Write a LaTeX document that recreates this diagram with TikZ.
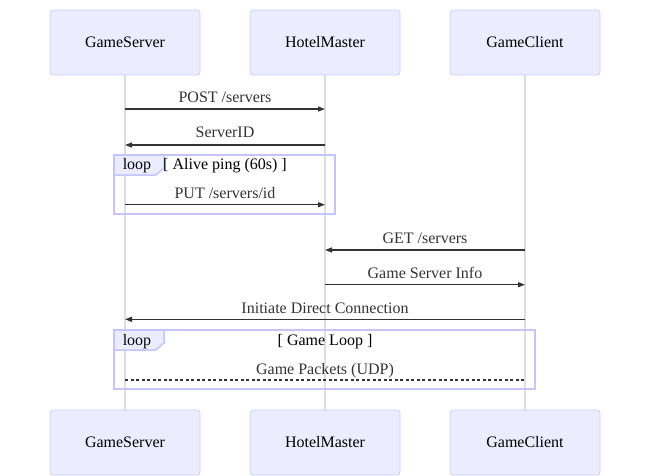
\documentclass[tikz,border=0pt]{standalone}
\usepackage{fontspec}
\setmainfont{Liberation Serif}
\usetikzlibrary{arrows.meta}
\definecolor{actfill}{HTML}{ECECFF}
\definecolor{actborder}{HTML}{CCCCFF}
\definecolor{loopborder}{HTML}{C4C4FF}
\definecolor{msgcol}{HTML}{333333}
\definecolor{lifecol}{HTML}{DDDDDD}
\begin{document}
\begin{tikzpicture}[x=1pt,y=-1pt,
  every node/.style={font=\fontsize{16pt}{19pt}\selectfont},
  actor/.style={draw=actborder, fill=actfill, rounded corners=3pt, minimum width=150pt, minimum height=65pt, line width=0.8pt, inner sep=0pt},
  lifeline/.style={draw=lifecol, line width=1.4pt},
  msgline/.style={draw=msgcol, line width=1.4pt, -{Triangle[length=7pt,width=5pt]}},
  dotline/.style={draw=msgcol, line width=1.3pt, dash pattern=on 3pt off 2.5pt},
  msgtext/.style={anchor=base, inner sep=0pt, text=msgcol},
  looptext/.style={anchor=base, inner sep=0pt, text=black},
  loopbox/.style={draw=loopborder, line width=1.5pt},
  looptab/.style={draw=loopborder, fill=actfill, line width=1.5pt},
]
\useasboundingbox (0,0) rectangle (650,476);

% lifeline anchors
\coordinate (gsTs) at (125,75);
\coordinate (hmTs) at (325,75);
\coordinate (gcTs) at (525,75);
\coordinate (gsBn) at (125,410);
\coordinate (hmBn) at (325,410);
\coordinate (gcBn) at (525,410);

% lifelines
\draw[lifeline] (gsTs) -- (gsBn);
\draw[lifeline] (hmTs) -- (hmBn);
\draw[lifeline] (gcTs) -- (gcBn);

% actors
\node[actor] (gsT) at (125,42.5) {GameServer};
\node[actor] (hmT) at (325,42.5) {HotelMaster};
\node[actor] (gcT) at (525,42.5) {GameClient};
\node[actor] (gsB) at (125,442.5) {GameServer};
\node[actor] (hmB) at (325,442.5) {HotelMaster};
\node[actor] (gcB) at (525,442.5) {GameClient};

% loop 1
\draw[loopbox] (114,155) rectangle (335,214);
\draw[looptab] (114,155) -- (164,155) -- (164,168) -- (155.6,175) -- (114,175) -- cycle;
\node[looptext] (l1) at (137,169.5) {loop};
\node[looptext] (l1c) at (225,169.5) {[ Alive ping (60s) ]};

% loop 2
\draw[loopbox] (114,330) rectangle (535,389);
\draw[looptab] (114,330) -- (164,330) -- (164,343) -- (155.6,350) -- (114,350) -- cycle;
\node[looptext] (l2) at (137,345) {loop};
\node[looptext] (l2c) at (325,345) {[ Game Loop ]};

% messages
\coordinate (m1a) at (125,109);   \coordinate (m1b) at (325,109);
\draw[msgline] (m1a) -- (m1b);
\node[msgtext] (t1) at (225,102.5) {POST /servers};

\coordinate (m2a) at (325,145);   \coordinate (m2b) at (125,145);
\draw[msgline] (m2a) -- (m2b);
\node[msgtext] (t2) at (225,138) {ServerID};

\coordinate (m3a) at (125,204.7); \coordinate (m3b) at (325,204.7);
\draw[msgline] (m3a) -- (m3b);
\node[msgtext] (t3) at (225,198) {PUT /servers/id};

\coordinate (m4a) at (525,250);   \coordinate (m4b) at (325,250);
\draw[msgline] (m4a) -- (m4b);
\node[msgtext] (t4) at (425,243.5) {GET /servers};

\coordinate (m5a) at (325,284.7); \coordinate (m5b) at (525,284.7);
\draw[msgline] (m5a) -- (m5b);
\node[msgtext] (t5) at (425,278) {Game Server Info};

\coordinate (m6a) at (525,319.3); \coordinate (m6b) at (125,319.3);
\draw[msgline] (m6a) -- (m6b);
\node[msgtext] (t6) at (325,313) {Initiate Direct Connection};

\coordinate (m7a) at (125,380);   \coordinate (m7b) at (525,380);
\draw[dotline] (m7a) -- (m7b);
\node[msgtext] (t7) at (325,374) {Game Packets (UDP)};
\end{tikzpicture}
\end{document}
